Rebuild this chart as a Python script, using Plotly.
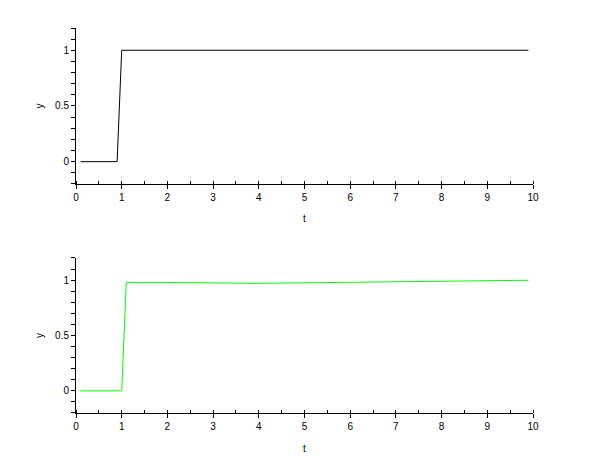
import plotly.graph_objects as go
from plotly.subplots import make_subplots

# top panel data
t_top = [0.1, 0.9, 1.0, 9.9]
y_top = [0, 0, 1, 1]

# bottom panel data
t_bot = [0.1, 1.0, 1.1, 2.0, 4.0, 5.45, 7.5, 9.5, 9.9]
y_bot = [0, 0, 0.979, 0.979, 0.971, 0.979, 0.988, 0.997, 0.999]

x_ticks = list(range(0, 11))
y_ticks = [0, 0.5, 1]
y_tick_text = ["0", "0.5", "1"]

fig = make_subplots(rows=2, cols=1)
fig.add_trace(go.Scatter(x=t_top, y=y_top, mode="lines",
                         line=dict(color="black", width=1)), row=1, col=1)
fig.add_trace(go.Scatter(x=t_bot, y=y_bot, mode="lines",
                         line=dict(color="#00ff00", width=1)), row=2, col=1)

font = dict(family="Liberation Sans, Arial, sans-serif", size=10, color="black")

xcommon = dict(range=[0, 10], tickvals=x_ticks, ticktext=[str(v) for v in x_ticks],
               showgrid=False, zeroline=False, showline=True, linecolor="black",
               linewidth=1, ticks="outside", ticklen=4, tickcolor="black",
               minor=dict(dtick=0.5, ticks="inside", ticklen=3, tickcolor="black", showgrid=False),
               tickfont=font, title=dict(text="t", font=font, standoff=13))
ycommon = dict(range=[-0.2, 1.2], tickvals=y_ticks, ticktext=y_tick_text,
               showgrid=False, zeroline=False, showline=True, linecolor="black",
               linewidth=1, ticks="outside", ticklen=4, tickcolor="black",
               minor=dict(dtick=0.1, tick0=0, ticks="outside", ticklen=4, tickcolor="black", showgrid=False),
               tickfont=font, title=dict(text="y", font=font, standoff=9))

fig.update_layout(
    width=610, height=460,
    margin=dict(l=68, r=85, t=20, b=55),
    paper_bgcolor="white", plot_bgcolor="white",
    showlegend=False,
    xaxis=dict(domain=[0, 1], anchor="y", **xcommon),
    yaxis=dict(domain=[0.595, 1.0], anchor="x", **ycommon),
    xaxis2=dict(domain=[0, 1], anchor="y2", **xcommon),
    yaxis2=dict(domain=[0.0, 0.4026], anchor="x2", **ycommon),
)

fig.write_html("out.html")
